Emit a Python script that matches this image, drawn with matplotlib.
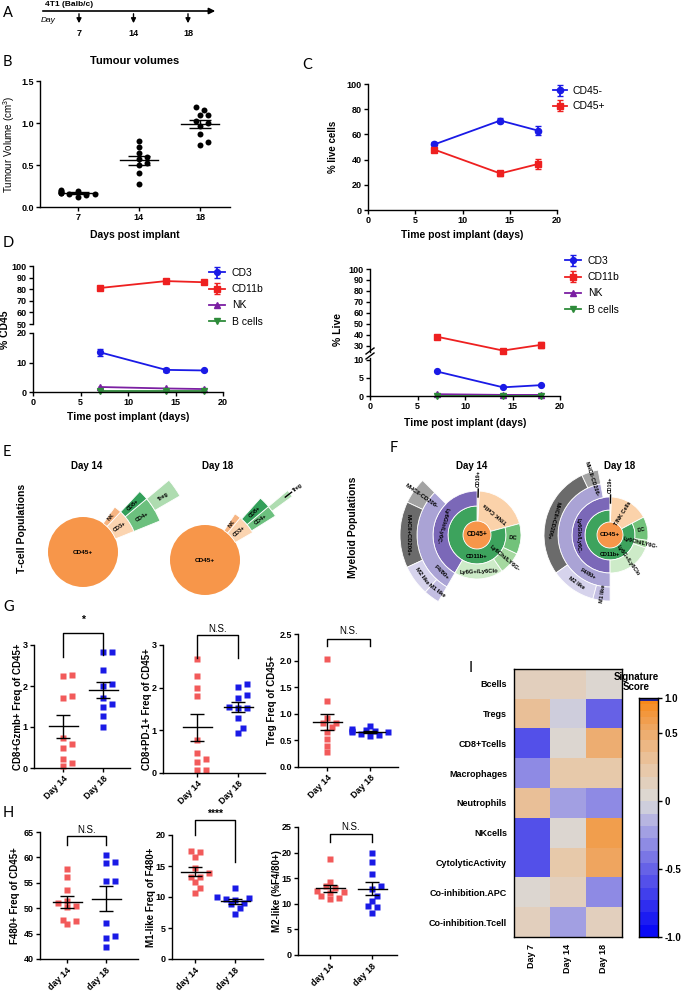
import numpy as np
import matplotlib.pyplot as plt
from matplotlib.patches import Wedge, Circle
from matplotlib.colors import LinearSegmentedColormap

W, H = 683, 992
plt.rcParams['font.family'] = ['Liberation Sans', 'DejaVu Sans']
plt.rcParams['font.weight'] = 'bold'
plt.rcParams['axes.labelweight'] = 'bold'
plt.rcParams['font.size'] = 6.5
plt.rcParams['axes.linewidth'] = 1.0
plt.rcParams['xtick.major.width'] = 1.0
plt.rcParams['ytick.major.width'] = 1.0
plt.rcParams['xtick.major.size'] = 3
plt.rcParams['ytick.major.size'] = 3
plt.rcParams['xtick.major.pad'] = 1.5
plt.rcParams['ytick.major.pad'] = 1.5
plt.rcParams['mathtext.default'] = 'regular'

BLUE = '#1a1ae6'
RED = '#ee2020'
SALMON = '#f25a5a'
PURPLE = '#7b1fa2'
GREEN = '#2e8b3a'

# ---- A: timeline
TIMELINE_DAYS = [7, 14, 18]

# ---- B: tumour volumes
B_DAYS = ['7', '14', '18']
B_D7 = [0.20, 0.19, 0.19, 0.18, 0.17, 0.17, 0.16, 0.15, 0.14, 0.12]
B_D14 = [0.79, 0.72, 0.64, 0.60, 0.57, 0.52, 0.50, 0.40, 0.27]
B_D18 = [1.19, 1.15, 1.10, 1.09, 1.02, 1.00, 0.97, 0.87, 0.77, 0.74]

# ---- C / D: time courses
TIME = [7, 14, 18]
C_NEG = [52, 71, 63]
C_NEG_ERR = [2, 2, 3.5]
C_POS = [48, 29, 36.5]
C_POS_ERR = [2, 2, 4]

D45_CD3 = [13.5, 7.5, 7.3]
D45_CD3_ERR = [1.2, 0.8, 0.3]
D45_CD11B = [81, 87, 86]
D45_CD11B_ERR = [1.0, 0.8, 1.0]
D45_NK = [1.7, 1.2, 1.0]
D45_B = [0.2, 0.2, 0.2]

DLIVE_CD3 = [6.8, 2.4, 3.0]
DLIVE_CD11B = [38.5, 25.8, 31]
DLIVE_CD11B_ERR = [1.2, 1.2, 2.5]
DLIVE_NK = [0.5, 0.3, 0.3]
DLIVE_B = [0.1, 0.1, 0.1]

# ---- E: T-cell sunbursts (fraction of parent)
TCELL_D14 = ('CD45+', 1.0, [
    ('CD3+', 0.069, [('CD4+', 0.72, [(None, 0.45, []), ('Treg', 0.55, [])]),
                     ('CD8+', 0.28, [])]),
    ('NK', 0.022, [])])
TCELL_D18 = ('CD45+', 1.0, [
    ('CD3+', 0.056, [(None, 0.1, []),
                     ('CD4+', 0.4, [(None, 0.5, []), ('Treg', 0.5, [])]),
                     ('CD8+', 0.4, [])]),
    ('NK', 0.019, [])])

# ---- F: myeloid sunbursts (fraction of parent)
MYELOID_D14 = ('CD45+', 1.0, [
    ('T/NK Cells', 0.200, []),
    ('CD19+', 0.008, []),
    ('CD11b+', 0.792, [
        ('Ly6Glo/Ly6C-', 0.526, [(None, 0.30, []), ('F4/80+', 0.70, [
            ('MHCII-CD206-', 0.19, []), ('MHCII+CD206+', 0.476, []),
            ('M2 like', 0.22, []), ('M1 like', 0.114, [])])]),
        ('Ly6G+/Ly6Clo', 0.228, []),
        ('Ly6Chi/LY6G-', 0.105, []),
        ('DC', 0.141, [])])])
MYELOID_D18 = ('CD45+', 1.0, [
    ('T/NK Cells', 0.167, []),
    ('CD19+', 0.006, []),
    ('CD11b+', 0.827, [
        ('Ly6Glo/Ly6C-', 0.604, [(None, 0.056, []), ('F4/80+', 0.944, [
            ('MHCII-CD206-', 0.088, []), ('MHCII+CD206+', 0.588, []),
            ('M2 like', 0.235, []), ('M1 like', 0.089, [])])]),
        ('Ly6G+/Ly6Clo', 0.235, []),
        ('Ly6Chi/LY6G-', 0.040, []),
        ('DC', 0.121, [])])])

# ---- G / H: dot plots
G_GZMB = [[2.25, 2.27, 1.75, 1.70, 0.72, 0.58, 0.50, 0.22, 0.12, 0.05],
          [2.82, 2.82, 2.38, 2.05, 2.00, 1.70, 1.55, 1.50, 1.28, 1.00]]
G_PD1 = [[2.68, 2.28, 2.00, 1.80, 0.78, 0.48, 0.32, 0.25, 0.07, 0.07],
         [2.08, 2.02, 1.82, 1.75, 1.55, 1.52, 1.52, 1.30, 1.05, 0.93]]
G_TREG = [[2.03, 1.25, 0.93, 0.83, 0.82, 0.75, 0.65, 0.52, 0.40, 0.28],
          [0.78, 0.72, 0.70, 0.68, 0.67, 0.66, 0.65, 0.62, 0.60, 0.58]]
H_F480 = [[57.8, 56.2, 53.5, 51.5, 51.0, 50.5, 50.3, 47.7, 47.4, 46.8],
          [60.4, 59.1, 58.8, 55.4, 55.3, 47.0, 44.5, 44.2, 42.4]]
H_M1 = [[17.4, 17.3, 16.4, 14.7, 13.8, 13.3, 13.2, 12.4, 11.4, 10.7],
        [11.4, 10.0, 9.8, 9.6, 9.5, 9.0, 8.8, 8.2, 7.3]]
H_M2 = [[18.7, 14.3, 13.4, 13.0, 12.5, 12.3, 12.2, 11.5, 11.2, 10.9],
        [19.9, 18.2, 15.8, 13.4, 12.8, 11.6, 10.5, 9.6, 9.3, 8.3]]
G_LABELS = ['Day 14', 'Day 18']
H_LABELS = ['day 14', 'day 18']

# ---- I: heatmap
SIG_ROWS = ['Bcells', 'Tregs', 'CD8+Tcells', 'Macrophages', 'Neutrophils',
            'NKcells', 'CytolyticActivity', 'Co-inhibition.APC', 'Co-inhibition.Tcell']
SIG_COLS = ['Day 7', 'Day 14', 'Day 18']
SIG_D7 = [0.15, 0.35, -0.55, -0.30, 0.35, -0.62, -0.55, 0.02, 0.10]
SIG_D14 = [0.10, -0.05, 0.08, 0.20, -0.20, 0.00, 0.25, 0.12, -0.22]
SIG_D18 = [0.00, -0.50, 0.50, 0.25, -0.28, 0.72, 0.55, -0.35, 0.12]
SIG_TICKS = [-1.0, -0.5, 0.0, 0.5, 1.0]

SUN_COLORS = {
    'CD45+': '#f7964a', 'T/NK Cells': '#fbd2aa', 'CD19+': '#fbd2aa', 'CD11b+': '#3da35d',
    'Ly6Glo/Ly6C-': '#7b68b8', 'F4/80+': '#aaa3d5', 'MHCII-CD206-': '#a3a3a3',
    'MHCII+CD206+': '#6b6b6b', 'M2 like': '#d6d3ec', 'M1 like': '#c3bee2',
    'Ly6G+/Ly6Clo': '#cdebc8', 'Ly6Chi/LY6G-': '#a5d9a0', 'DC': '#72c27a',
    'NK': '#f6b583', 'CD3+': '#fbd4b0', 'CD8+': '#33a05a', 'CD4+': '#6cc07e',
    'Treg': '#aedcb0'}

fig = plt.figure(figsize=(W / 100, H / 100), dpi=100)


def px_axes(x0, y0, x1, y1, **kw):
    return fig.add_axes([x0 / W, 1 - y1 / H, (x1 - x0) / W, (y1 - y0) / H], **kw)


def prism(ax):
    ax.spines['top'].set_visible(False)
    ax.spines['right'].set_visible(False)


def Y(y):
    return H - y


ov = fig.add_axes([0, 0, 1, 1], zorder=10)
ov.set_xlim(0, W)
ov.set_ylim(0, H)
ov.axis('off')


def T(x, y, s, **kw):
    ov.text(x, Y(y), s, **kw)


# panel letters
for lab, x, y in [('A', 3, 13), ('B', 3, 62), ('C', 302, 65), ('D', 3, 243), ('E', 3, 452),
                  ('F', 390, 448), ('G', 3, 607), ('H', 3, 813), ('I', 469, 668)]:
    T(x, y, lab, fontsize=10.5, fontweight='normal', family='Lato', va='center')

# ---- A
ov.annotate('', xy=(218, Y(11)), xytext=(40, Y(11)),
            arrowprops=dict(arrowstyle='-|>', lw=1.2, color='k', mutation_scale=9))
T(45, 8, '4T1 (Balb/c)', fontsize=6, va='bottom')
T(41, 20, 'Day', fontsize=6, style='italic', fontweight='normal', va='center')
for i, d in enumerate(TIMELINE_DAYS):
    x = 79 + i * 54.5
    ov.annotate('', xy=(x, Y(26)), xytext=(x, Y(11)),
                arrowprops=dict(arrowstyle='-|>', lw=1.0, color='k', mutation_scale=7))
    T(x, 33, str(d), fontsize=6.5, ha='center', va='center')

# ---- B
axb = px_axes(40, 81, 230, 207)
prism(axb)
for i, vals in enumerate([B_D7, B_D14, B_D18]):
    v = np.array(vals)
    order = np.argsort(v)
    offs = np.zeros(len(v))
    placed = []
    for k in order:
        yk = v[k] * 84
        for step in [0, 1, -1, 2, -2, 3, -3, 4, -4]:
            xk = step * 4.2
            if all((xk - px) ** 2 + (yk - py) ** 2 >= 30 for px, py in placed):
                break
        placed.append((xk, yk))
        offs[k] = xk / 61
    axb.plot(i + offs, v, 'o', color='k', ms=4.3, mec='none', clip_on=False)
    m = v.mean()
    s = v.std(ddof=1) / np.sqrt(len(v))
    axb.plot([i - 0.31, i + 0.31], [m, m], color='k', lw=1.0)
    axb.errorbar(i, m, yerr=s, color='k', capsize=8, lw=1.0, capthick=1.0)
axb.set_xlim(-0.62, 2.49)
axb.set_ylim(0, 1.5)
axb.set_xticks([0, 1, 2])
axb.set_xticklabels(B_DAYS)
axb.set_yticks([0, 0.5, 1.0, 1.5])
axb.set_yticklabels(['0.0', '0.5', '1.0', '1.5'])
axb.set_ylabel('Tumour Volume (cm$^{3}$)', fontsize=7, fontweight='normal')
axb.yaxis.set_label_coords((17 - 40) / 190, 0.5)
T(135, 61, 'Tumour volumes', fontsize=8, ha='center', va='center')
T(135, 235, 'Days post implant', fontsize=7.5, ha='center', va='center')

# ---- C
axc = px_axes(368, 84, 557, 210)
prism(axc)
axc.errorbar(TIME, C_NEG, yerr=C_NEG_ERR, color=BLUE, marker='o', ms=4.5, lw=1.3,
             capsize=2, label='CD45-')
axc.errorbar(TIME, C_POS, yerr=C_POS_ERR, color=RED, marker='s', ms=4.2, lw=1.3,
             capsize=2, label='CD45+')
axc.set_xlim(0, 20)
axc.set_ylim(0, 100)
axc.set_xticks([0, 5, 10, 15, 20])
axc.set_yticks([0, 20, 40, 60, 80, 100])
axc.set_ylabel('% live cells', fontsize=7)
axc.yaxis.set_label_coords((338 - 368) / 189, 0.5)
T(462, 235, 'Time post implant (days)', fontsize=7.5, ha='center', va='center')
axc.legend(loc='upper left', bbox_to_anchor=(553 / W, 1 - 86 / H), bbox_transform=fig.transFigure,
           frameon=False, prop={'weight': 'normal', 'size': 7.5}, handlelength=1.3,
           handletextpad=0.6, labelspacing=0.5, borderpad=0, borderaxespad=0)


# ---- D (broken axes)
def broken(box_up, box_lo, ylim_up, ylim_lo, yt_up, yt_lo):
    up = px_axes(*box_up)
    lo = px_axes(*box_lo)
    for a in (up, lo):
        prism(a)
        a.set_xlim(0, 20)
    up.spines['bottom'].set_visible(False)
    up.set_xticks([])
    up.set_ylim(*ylim_up)
    up.set_yticks(yt_up)
    lo.set_ylim(*ylim_lo)
    lo.set_yticks(yt_lo)
    lo.set_xticks([0, 5, 10, 15, 20])
    return up, lo


up1, lo1 = broken((33, 266, 223, 324), (33, 333, 223, 392), (50, 100), (0, 20),
                  [50, 60, 70, 80, 90, 100], [0, 10, 20])
h1 = lo1.errorbar(TIME, D45_CD3, yerr=D45_CD3_ERR, color=BLUE, marker='o', ms=4.2, lw=1.3, capsize=2)
h2 = up1.errorbar(TIME, D45_CD11B, yerr=D45_CD11B_ERR, color=RED, marker='s', ms=4.0, lw=1.3, capsize=2)
h3, = lo1.plot(TIME, D45_NK, color=PURPLE, marker='^', ms=4.2, lw=1.3, clip_on=False)
h4, = lo1.plot(TIME, D45_B, color=GREEN, marker='v', ms=4.2, lw=1.3, clip_on=False)
fig.legend([h1, h2, h3, h4], ['CD3', 'CD11b', 'NK', 'B cells'], loc='upper left',
           bbox_to_anchor=(209 / W, 1 - 268 / H), frameon=False,
           prop={'weight': 'normal', 'size': 7.5}, handlelength=1.5, handletextpad=0.7,
           labelspacing=0.6, borderpad=0, borderaxespad=0)
T(5, 330, '% CD45', fontsize=7.5, rotation=90, ha='center', va='center')
T(128, 417, 'Time post implant (days)', fontsize=7.5, ha='center', va='center')

up2, lo2 = broken((370, 269, 560, 352), (370, 358, 560, 396), (24.5, 100), (0, 10.5),
                  [30, 40, 50, 60, 70, 80, 90, 100], [0, 5, 10])
lo2.plot(TIME, DLIVE_CD3, color=BLUE, marker='o', ms=4.2, lw=1.3)
up2.errorbar(TIME, DLIVE_CD11B, yerr=DLIVE_CD11B_ERR, color=RED, marker='s', ms=4.0, lw=1.3,
             capsize=2, clip_on=False)
lo2.plot(TIME, DLIVE_NK, color=PURPLE, marker='^', ms=4.2, lw=1.3, clip_on=False)
lo2.plot(TIME, DLIVE_B, color=GREEN, marker='v', ms=4.2, lw=1.3, clip_on=False)
fig.legend([h1, h2, h3, h4], ['CD3', 'CD11b', 'NK', 'B cells'], loc='upper left',
           bbox_to_anchor=(565 / W, 1 - 256 / H), frameon=False,
           prop={'weight': 'normal', 'size': 7.5}, handlelength=1.5, handletextpad=0.7,
           labelspacing=0.6, borderpad=0, borderaxespad=0)
for yy in (351, 356):
    ov.plot([366, 374], [Y(yy + 3), Y(yy - 3)], color='k', lw=1.0)
T(338, 330, '% Live', fontsize=7.5, rotation=90, ha='center', va='center')
T(465, 423, 'Time post implant (days)', fontsize=7.5, ha='center', va='center')


# ---- sunbursts
def sunburst(cx, cy, radii, root, start, tangential, fs, extend=False, angle_fix=None):
    angle_fix = angle_fix or {}
    c = (cx, Y(cy))
    ov.add_patch(Circle(c, radii[0], color=SUN_COLORS[root[0]], lw=0))
    ov.text(cx, Y(cy), root[0], fontsize=fs + 0.6, ha='center', va='center')

    def rec(nodes, a0, span, depth):
        a = a0
        for lab, frac, kids in nodes:
            w = span * frac
            if lab is not None:
                r_in = radii[depth - 1]
                r_out = radii[depth]
                if extend and depth == 1 and not kids:
                    r_out = radii[2]
                ov.add_patch(Wedge(c, r_out, a, a + w, width=r_out - r_in,
                                   fc=SUN_COLORS[lab], ec='white', lw=0.6))
                mid = angle_fix.get(lab, a + w / 2)
                t = np.deg2rad(mid)
                if w < 5:
                    ov.plot([c[0] + (r_out - 6) * np.cos(t), c[0] + (r_out + 2) * np.cos(t)],
                            [c[1] + (r_out - 6) * np.sin(t), c[1] + (r_out + 2) * np.sin(t)],
                            color='k', lw=1.0)
                    ov.text(c[0] + (r_out + 4) * np.cos(t), c[1] + (r_out + 4) * np.sin(t),
                            lab, fontsize=fs - 0.3, rotation=mid, rotation_mode='anchor',
                            ha='left', va='center')
                else:
                    rm = (r_in + r_out) / 2
                    if lab in tangential:
                        rot = mid + 90
                    else:
                        rot = (mid + 90) % 180 - 90
                    ov.text(c[0] + rm * np.cos(t), c[1] + rm * np.sin(t), lab, fontsize=fs,
                            rotation=rot, rotation_mode='anchor', ha='center', va='center')
                rec(kids, a, w, depth + 1)
            a += w

    rec(root[2], start, 360.0, 1)


T(87, 466, 'Day 14', fontsize=7, ha='center', va='center')
T(218, 466, 'Day 18', fontsize=7, ha='center', va='center')
T(22, 528, 'T-cell Populations', fontsize=7.5, rotation=90, ha='center', va='center')
sunburst(83, 552, [35, 55, 83, 112], TCELL_D14, 22, set(), 4.0)
sunburst(205, 560, [35, 55, 83, 108], TCELL_D18, 30, set(), 4.0)

T(472, 466, 'Day 14', fontsize=7, ha='center', va='center')
T(620, 466, 'Day 18', fontsize=7, ha='center', va='center')
T(353, 527, 'Myeloid Populations', fontsize=7.5, rotation=90, ha='center', va='center')
sunburst(477, 535, [14, 29, 44, 60, 77], MYELOID_D14, 15,
         {'T/NK Cells', 'Ly6Glo/Ly6C-', 'F4/80+', 'MHCII+CD206+', 'M2 like', 'M1 like',
          'Ly6G+/Ly6Clo', 'CD11b+'}, 4.2, extend=True,
         angle_fix={'CD11b+': 270, 'F4/80+': 226})
sunburst(610, 535, [13, 25, 38, 52, 66], MYELOID_D18, 28,
         {'Ly6Glo/Ly6C-', 'F4/80+', 'MHCII+CD206+', 'M2 like', 'CD11b+'}, 4.0, extend=True,
         angle_fix={'CD11b+': 270, 'F4/80+': 240})


# ---- G / H dot plots
def dot_panel(box, ylim, yticks, yfmt, groups, xlabels, ylabel, ylabel_x, sig, br_px, sig_bold):
    x0, y0, x1, y1 = box
    ax = px_axes(x0, y0, x1, y1)
    prism(ax)
    d14x, d18x = br_px[0], br_px[1]
    xpu = d18x - d14x
    xl = ((x0 - d14x) / xpu, (x1 - d14x) / xpu)
    ypu = (y1 - y0) / (ylim[1] - ylim[0])
    for i, (vals, col) in enumerate(zip(groups, [SALMON, BLUE])):
        v = np.array(vals)
        order = np.argsort(v)
        offs = np.zeros(len(v))
        placed = []
        for k in order:
            yk = v[k] * ypu
            for step in [0, 1, -1, 2, -2, 3, -3, 4, -4]:
                xk = step * 4.5
                if all((xk - px) ** 2 + (yk - py) ** 2 >= 36 for px, py in placed):
                    break
            placed.append((xk, yk))
            offs[k] = xk / xpu
        ax.plot(i + offs, v, 's', color=col, ms=4.3, mec='none', clip_on=False)
        m = v.mean()
        s = v.std(ddof=1) / np.sqrt(len(v))
        ax.plot([i - 14.5 / xpu, i + 14.5 / xpu], [m, m], color='k', lw=1.0)
        ax.errorbar(i, m, yerr=s, color='k', capsize=5, lw=1.0, capthick=1.0)
    ax.set_xlim(*xl)
    ax.set_ylim(*ylim)
    ax.set_xticks([0, 1])
    ax.set_xticklabels(xlabels, rotation=45, ha='right', rotation_mode='anchor')
    ax.set_yticks(yticks)
    ax.set_yticklabels([yfmt.format(t) for t in yticks])
    ax.set_ylabel(ylabel, fontsize=7)
    ax.yaxis.set_label_coords((ylabel_x + 5 - x0) / (x1 - x0), 0.5)
    # significance bracket (pixel layout)
    top, arm0, arm1, txt = br_px[2], br_px[3], br_px[4], br_px[5]
    ov.plot([d14x, d14x, d18x, d18x], [Y(arm0), Y(top), Y(top), Y(arm1)], color='k', lw=1.0)
    T((d14x + d18x) / 2, txt, sig, fontsize=7.5 if sig_bold else 7,
      fontweight='bold' if sig_bold else 'normal', ha='center', va='center')
    return ax


dot_panel((34, 645, 130, 768), (0, 3), [0, 1, 2, 3], '{:g}', G_GZMB, G_LABELS,
          'CD8+Gzmb+ Freq of CD45+', 18, '*', (63, 103, 633, 657, 655, 620), True)
dot_panel((163, 645, 265, 773), (0, 3), [0, 1, 2, 3], '{:g}', G_PD1, G_LABELS,
          'CD8+PD-1+ Freq of CD45+', 147, 'N.S.', (197, 238, 635, 658, 658, 629), False)
dot_panel((298, 634, 398, 767), (0, 2.5), [0, 0.5, 1.0, 1.5, 2.0, 2.5], '{:.1f}', G_TREG, G_LABELS,
          'Treg Freq of CD45+', 272, 'N.S.', (327, 370, 639, 646, 646, 631), False)
dot_panel((40, 832, 138, 959), (40, 65), [40, 45, 50, 55, 60, 65], '{:g}', H_F480, H_LABELS,
          'F480+ Freq of CD45+', 15, 'N.S.', (67, 106, 836, 845, 845, 830), False)
dot_panel((172, 835, 263, 959), (0, 20), [0, 5, 10, 15, 20], '{:g}', H_M1, H_LABELS,
          'M1-like Freq of F480+', 151, '****', (195, 235, 820, 835, 862, 814), True)
dot_panel((298, 827, 397, 955), (0, 25), [0, 5, 10, 15, 20, 25], '{:g}', H_M2, H_LABELS,
          'M2-like (%F4/80+)', 277, 'N.S.', (330, 372, 834, 842, 842, 827), False)

# ---- I heatmap
sig = np.array([SIG_D7, SIG_D14, SIG_D18]).T
cmap = LinearSegmentedColormap.from_list('sig', [
    (0.0, '#0a0af5'), (0.25, '#6b66e6'), (0.42, '#b3b1e2'), (0.5, '#dadada'),
    (0.62, '#e8c9aa'), (0.78, '#eeaa6a'), (1.0, '#f7891a')], N=22)
axi = px_axes(514, 669, 622, 937)
im = axi.imshow(sig, cmap=cmap, vmin=-1, vmax=1, aspect='auto')
axi.set_yticks(range(len(SIG_ROWS)))
axi.set_yticklabels(SIG_ROWS, fontsize=6.5)
axi.set_xticks(range(len(SIG_COLS)))
axi.set_xticklabels(SIG_COLS, rotation=90, fontsize=6.5)
axi.tick_params(length=0, pad=5)
for s in axi.spines.values():
    s.set_linewidth(1.0)


# colour scale: linear from -1 to 0.5, compressed above 0.5
def cbpos(v):
    v = np.asarray(v, dtype=float)
    return np.where(v <= 0.5, v, 0.5 + (v - 0.5) * 35 / 67)


cax = px_axes(639, 698, 658, 937)
bounds = np.linspace(-1, 1, 23)
mids = (bounds[:-1] + bounds[1:]) / 2
cax.pcolormesh([0, 1], cbpos(bounds), mids[:, None], cmap=cmap, vmin=-1, vmax=1)
top = float(cbpos(1.0))
cax.axhspan(top - 0.025, top, color='#23238f', lw=0)
cax.set_xlim(0, 1)
cax.set_ylim(-1, top)
cax.set_xticks([])
cax.yaxis.tick_right()
cax.set_yticks(cbpos(SIG_TICKS))
cax.set_yticklabels(['-1.0', '-0.5', '0', '0.5', '1.0'], fontsize=7)
cax.tick_params(length=3, width=1.0)
for s in cax.spines.values():
    s.set_linewidth(1.0)
T(636, 682, 'Signature\nScore', fontsize=7, ha='center', va='center', linespacing=1.1)

fig.savefig('out.png', dpi=100, facecolor='white')
